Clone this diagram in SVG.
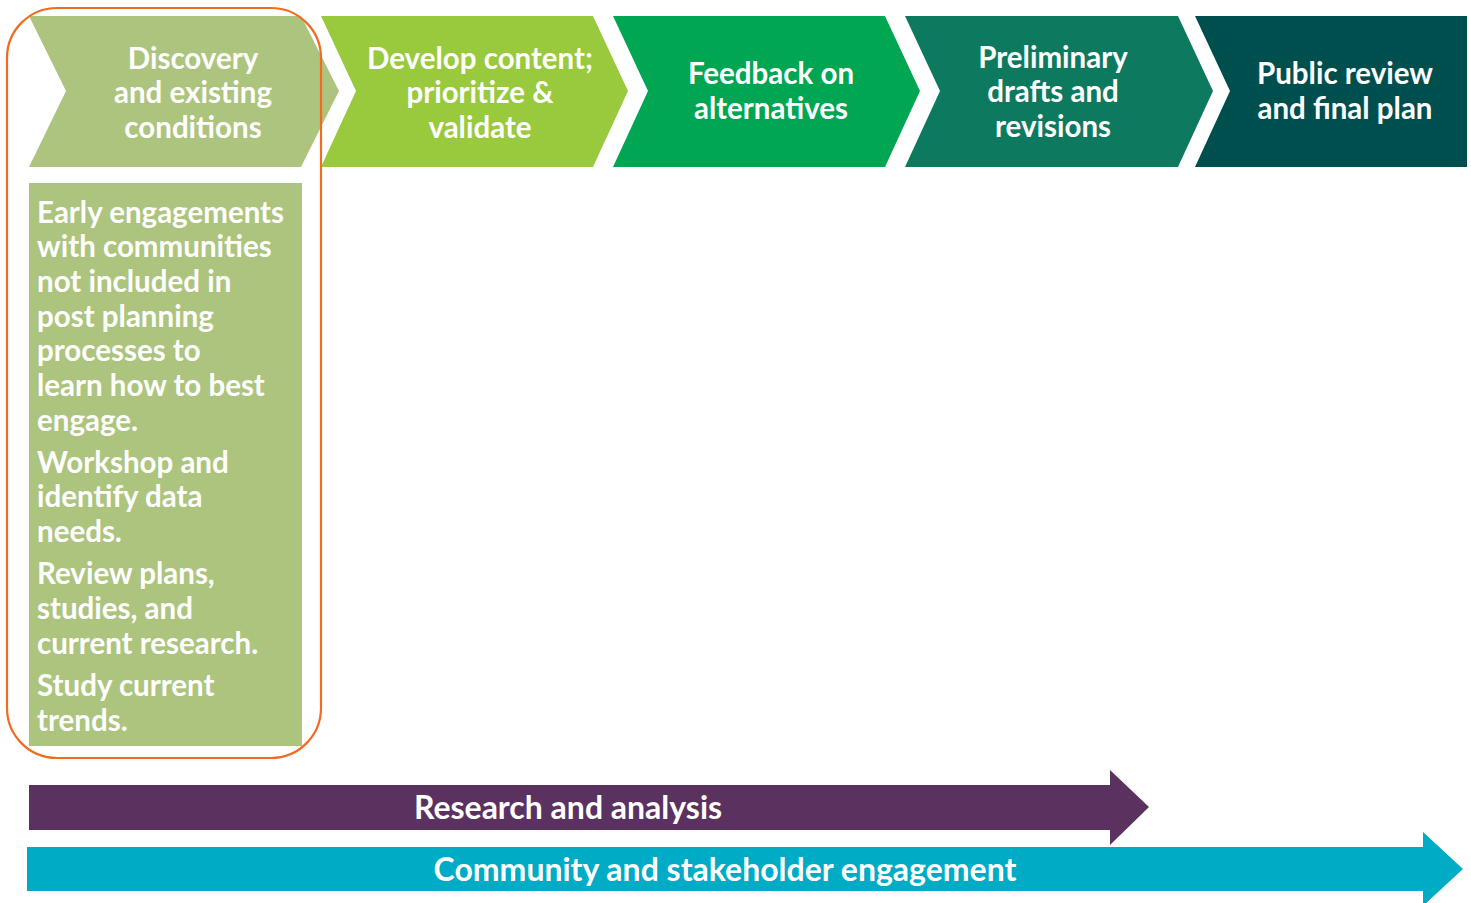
<svg xmlns="http://www.w3.org/2000/svg" width="1471" height="903" viewBox="0 0 1471 903">
<style>
.t{font-family:Lato,"Open Sans","Liberation Sans",sans-serif;font-weight:700;fill:#ffffff;font-size:29.5px}
.b{font-size:32px}
.c{text-anchor:middle}
</style>
<rect width="1471" height="903" fill="#ffffff"/>
<g id="step1">
<polygon points="29,16 301,16 339,91 301,167 29,167 66,91" fill="#ADC47E"/>
<text class="t c"><tspan x="193" y="69">Discovery</tspan><tspan x="193" y="103">and existing</tspan><tspan x="193" y="138">conditions</tspan></text>
</g>
<g id="step2">
<polygon points="321,16 593,16 628,91 593,167 321,167 356,91" fill="#99C93C"/>
<text class="t c"><tspan x="480" y="69">Develop content;</tspan><tspan x="480" y="103">prioritize &amp;</tspan><tspan x="480" y="138">validate</tspan></text>
</g>
<g id="step3">
<polygon points="613,16 885,16 920,91 885,167 613,167 648,91" fill="#00A651"/>
<text class="t c"><tspan x="771" y="84">Feedback on</tspan><tspan x="771" y="119">alternatives</tspan></text>
</g>
<g id="step4">
<polygon points="905,16 1178,16 1213,91 1178,167 905,167 940,91" fill="#0D7A5F"/>
<text class="t c"><tspan x="1053" y="68">Preliminary</tspan><tspan x="1053" y="102">drafts and</tspan><tspan x="1053" y="137">revisions</tspan></text>
</g>
<g id="step5">
<polygon points="1195,16 1467,16 1467,167 1195,167 1230,91" fill="#004F4F"/>
<text class="t c"><tspan x="1345" y="84">Public review</tspan><tspan x="1345" y="119">and final plan</tspan></text>
</g>
<g id="details1">
<rect x="29" y="183" width="273" height="563" fill="#ADC47E"/>
<text class="t"><tspan x="37" y="223">Early engagements</tspan><tspan x="37" y="257">with communities</tspan><tspan x="37" y="292">not included in</tspan><tspan x="37" y="327">post planning</tspan><tspan x="37" y="361">processes to</tspan><tspan x="37" y="396">learn how to best</tspan><tspan x="37" y="431">engage.</tspan><tspan x="37" y="473">Workshop and</tspan><tspan x="37" y="507">identify data</tspan><tspan x="37" y="542">needs.</tspan><tspan x="37" y="584">Review plans,</tspan><tspan x="37" y="619">studies, and</tspan><tspan x="37" y="654">current research.</tspan><tspan x="37" y="696">Study current</tspan><tspan x="37" y="731">trends.</tspan></text>
</g>
<g id="highlight">
<rect x="7" y="8" width="314" height="750" rx="50" ry="50" fill="none" stroke="#F26B21" stroke-width="2.2"/>
</g>
<g id="research">
<polygon points="29,785 1110,785 1110,770 1149,807 1110,845 1110,830 29,830" fill="#5B3160"/>
<text class="t b c" x="568" y="819">Research and analysis</text>
</g>
<g id="engagement">
<polygon points="27,847 1423,847 1423,832 1463,869 1423,906 1423,891 27,891" fill="#00ABC6"/>
<text class="t b c" x="725" y="881">Community and stakeholder engagement</text>
</g>
</svg>
